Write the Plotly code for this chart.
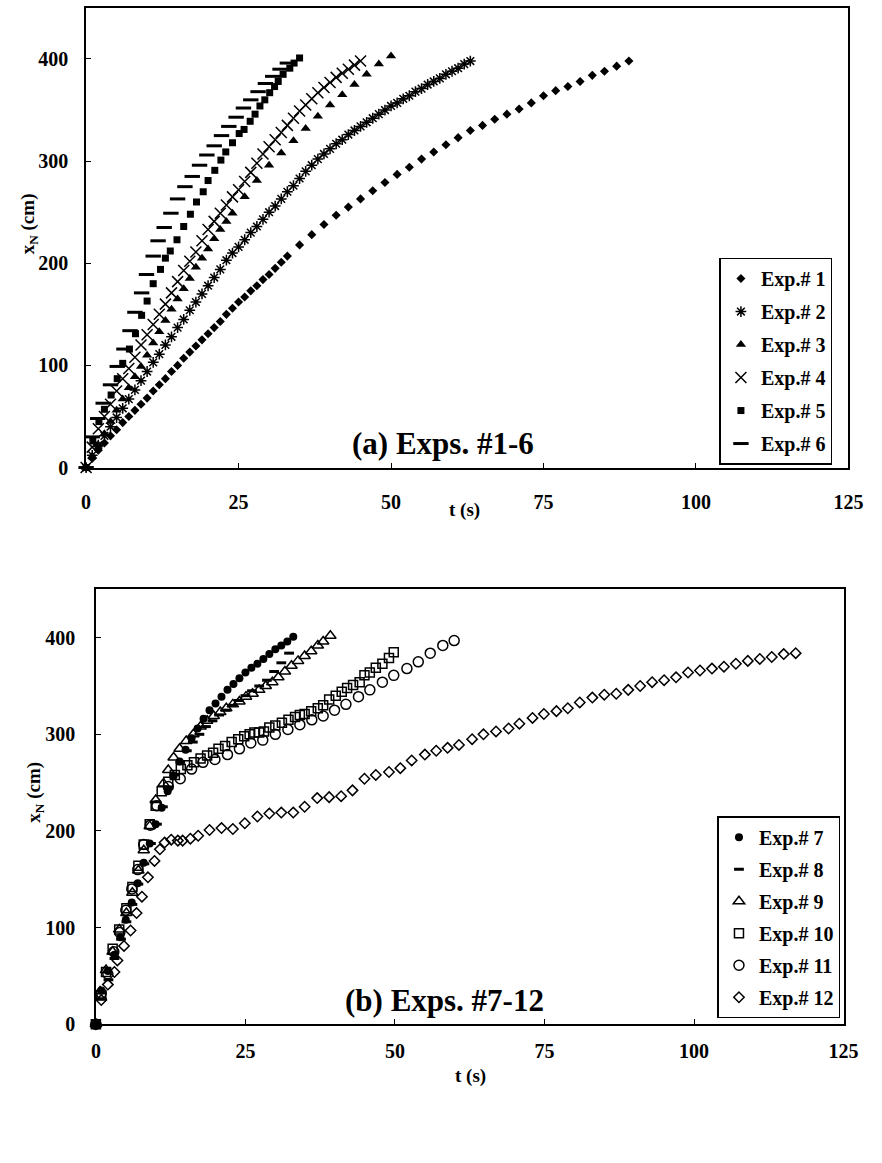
import plotly.graph_objects as go

FONT = "Liberation Serif, Times New Roman, serif"
W, H = 882, 1163

# ---------------- data: panel (a) ----------------
t1 = [0, 1, 2, 3, 4, 5, 6, 7, 8, 9, 10, 11, 12, 13, 14, 15, 16, 17, 18, 19, 20, 21, 22, 23, 24, 25, 26, 27, 28, 29, 30, 31, 32, 33,
      35, 37, 39, 41, 43, 45, 47, 49, 51, 53, 55, 57, 59, 61, 63, 65, 67, 69, 71, 73, 75, 77, 79, 81, 83, 85, 87, 89]
x1 = [0, 9, 17, 24, 31, 37, 44, 50, 56, 62, 68, 75, 81, 87, 94, 100, 107, 113, 119, 125, 131, 137, 143, 150, 156, 162, 167, 173, 178, 184, 189, 195, 201, 207,
      218, 228, 238, 247, 255, 263, 271, 279, 287, 294, 302, 309, 316, 323, 330, 335, 341, 346, 351, 357, 364, 369, 373, 378, 384, 388, 393, 398]

t2 = list(range(0, 64))
x2 = [0, 12, 22, 31, 40, 49, 58, 67, 76, 85, 94, 103, 111, 120, 128, 137, 145, 154, 162, 170,
      178, 186, 194, 203, 210, 216, 223, 230, 236, 243, 250, 256, 263, 270, 276, 283, 290, 296, 302, 307,
      312, 317, 321, 326, 330, 334, 338, 342, 346, 350, 354, 357, 361, 364, 368, 371, 375, 378, 381, 385,
      388, 391, 395, 398]

t3 = [0, 1, 2, 3, 4, 5, 6, 7, 8, 9, 10, 11, 12, 13, 14, 15, 16, 17, 18, 19, 20, 21, 22, 23, 24,
      26, 28, 30, 32, 34, 36, 38, 40, 42, 44, 46, 48, 50]
x3 = [0, 11, 22, 33, 45, 56, 67, 78, 89, 99, 110, 122, 133, 144, 155, 165, 175, 185, 196, 205, 214, 224, 233, 241, 249,
      265, 281, 296, 308, 320, 332, 344, 355, 365, 375, 385, 395, 403]

t4 = list(range(0, 46))
x4 = [0, 20, 38, 50, 62, 75, 87, 97, 108, 120, 130, 140, 150, 160, 171, 182, 193, 202, 211, 222,
      233, 241, 249, 257, 265, 272, 280, 289, 298, 307, 314, 321, 328, 335, 342, 349, 355, 361, 367, 372,
      377, 382, 386, 390, 394, 398]

t5 = [0, 1.1, 2.1, 3.0, 4.1, 5.1, 6.0, 7.1, 8.1, 9.1, 10.0, 11.0, 12.2, 13.0, 13.8, 14.9, 16.0, 17.1, 18.1, 19.2,
      20.0, 21.1, 22.1, 22.9, 24.0, 25.1, 25.9, 26.9, 27.7, 28.5, 29.3, 30.1, 30.9, 31.5, 32.3, 33.4, 34.1, 35.0]
x5 = [0, 26, 45, 57, 71, 87, 102, 116, 131, 149, 163, 180, 194, 205, 212, 223, 236, 248, 260, 270,
      281, 291, 301, 309, 318, 327, 331, 339, 346, 354, 360, 367, 373, 378, 385, 391, 396, 401]

t6 = [0, 1.0, 1.9, 2.8, 4.0, 5.1, 6.2, 7.2, 8.0, 9.1, 9.9, 11.0, 11.8, 12.8, 13.9, 15.0, 16.2, 17.4, 18.6, 19.8,
      21.0, 22.2, 23.4, 24.6, 25.8, 27.0, 28.2, 29.4, 30.6, 31.8, 33.0]
x6 = [0, 30, 48, 63, 81, 99, 116, 134, 152, 171, 189, 207, 222, 235, 249, 263, 275, 285, 296, 306,
      315, 325, 334, 343, 352, 360, 368, 376, 383, 390, 396]

# ---------------- data: panel (b) ----------------
t7 = [0, 0.9, 2.0, 3.1, 4.1, 5.0, 6.0, 7.0, 8.0, 9.0, 10, 11, 12, 13, 14, 15, 16, 17, 18, 19,
      20, 21, 22, 23, 24, 25, 26, 27, 28, 29, 30, 31, 32, 33]
x7 = [0, 35, 55, 72, 90, 108, 126, 146, 167, 187, 207, 224, 241, 257, 272, 284, 296, 306, 316, 325,
      332, 339, 346, 352, 358, 364, 369, 373, 378, 383, 388, 392, 396, 401]

t8 = [0, 1.0, 2.1, 3.1, 4.2, 5.1, 6.1, 7.1, 8.1, 9.2, 10.2, 11.2, 12.1, 13.1, 14.1, 15.2, 16.2, 17.3, 18.4, 19.5,
      20.6, 21.7, 22.8, 23.9, 25.0, 26.1, 27.3, 28.6, 29.8, 31.0, 32.3]
x8 = [0, 26, 46, 68, 88, 106, 124, 145, 166, 187, 207, 225, 244, 258, 271, 283, 292, 300, 308, 314,
      320, 325, 330, 335, 340, 345, 350, 356, 365, 374, 384]

t9 = [0, 0.7, 1.7, 2.8, 3.9, 5.1, 6.1, 7.1, 8.0, 9.0, 10.0, 11.3, 12.1, 13.0, 14.0, 15.1, 16.3, 17.5, 18.6, 19.7,
      20.8, 21.8, 22.9, 24.0, 25.1, 26.2, 27.3, 28.4, 29.5, 30.5, 31.6, 32.7, 33.8, 34.9, 36.0, 37.1, 38.0, 39.2]
x9 = [0, 34, 56, 75, 98, 115, 136, 159, 180, 205, 232, 249, 263, 276, 285, 293, 300, 308, 314, 319,
      323, 327, 331, 334, 339, 342, 346, 350, 354, 359, 365, 371, 376, 381, 386, 392, 396, 402]

t10 = [0, 0.9, 1.7, 2.8, 3.9, 5.1, 6.1, 7.1, 8.0, 9.0, 10.0, 11.0, 12.1, 13.2, 14.2, 15.3, 16.4, 17.5, 18.6, 19.6,
       20.5, 21.6, 22.7, 23.8, 24.8, 25.7, 26.5, 27.3, 28.1, 29.0, 30.0, 31.1, 32.2, 33.3, 34.1, 34.9, 36.0, 37.1, 38.0, 39.0,
       40.1, 41.1, 42.0, 43.0, 44.1, 44.9, 45.8, 46.8, 47.9, 49.0, 49.8]
x10 = [0, 30, 54, 78, 98, 120, 142, 164, 186, 207, 226, 241, 251, 258, 264, 268, 271, 275, 278, 281,
       285, 288, 292, 295, 298, 300, 302, 302, 303, 307, 309, 312, 315, 318, 320, 321, 324, 327, 330, 336,
       340, 344, 348, 351, 354, 361, 364, 369, 373, 379, 385]

t11 = [0, 0.9, 2.0, 3.0, 4.0, 5.0, 6.0, 7.0, 8.0, 9.1, 10.2, 12.1, 14.1, 16.0, 17.9, 19.9, 22.0, 24.0, 25.9, 27.9,
       30.0, 32.1, 34.1, 36.1, 38.0, 39.9, 41.8, 43.9, 45.8, 47.9, 49.8, 52.0, 53.9, 55.9, 58.0, 59.9]
x11 = [0, 32, 52, 75, 95, 118, 140, 160, 186, 206, 226, 246, 254, 264, 271, 274, 279, 285, 291, 294,
       300, 305, 310, 315, 319, 325, 331, 339, 346, 354, 361, 368, 375, 384, 392, 397]

t12 = [0, 0.9, 2.0, 3.1, 3.6, 4.7, 5.8, 6.8, 7.7, 8.7, 9.8, 10.7, 11.5, 12.6, 13.7, 14.5, 15.8, 17.1, 19.0, 21.0,
       22.9, 24.9, 27.0, 29.0, 31.0, 33.0, 34.9, 37.0, 39.0, 41.0, 42.9, 44.9, 46.8, 49.0, 50.9, 52.8, 55.0, 56.9, 58.8, 60.7,
       62.9, 64.8, 66.9, 69.0, 70.8, 73.0, 74.9, 77.0, 78.9, 80.9, 83.0, 85.0, 87.0, 89.0, 91.0, 93.0, 95.0, 97.0, 99.0, 101.0,
       103.0, 105.0, 107.0, 109.0, 111.0, 113.0, 115.0, 117.0]
x12 = [0, 25, 41, 54, 66, 81, 97, 115, 132, 152, 169, 181, 188, 191, 190, 190, 192, 195, 201, 203,
       202, 208, 215, 218, 219, 219, 225, 234, 235, 236, 242, 254, 258, 261, 265, 273, 279, 283, 286, 289,
       295, 300, 303, 306, 311, 317, 321, 324, 327, 333, 338, 341, 342, 346, 350, 354, 356, 359, 364, 366,
       368, 370, 373, 376, 378, 380, 383, 384]

x_ticks = [0, 25, 50, 75, 100, 125]
y_ticks = [0, 100, 200, 300, 400]

# ---------------- figure ----------------
fig = go.Figure()

series_a = [
    ("Exp.# 1", t1, x1, dict(symbol="diamond", size=7, color="black")),
    ("Exp.# 2", t2, x2, dict(symbol="asterisk-open", size=9, color="black", line=dict(width=1.5, color="black"))),
    ("Exp.# 3", t3, x3, dict(symbol="triangle-up", size=9, color="black")),
    ("Exp.# 4", t4, x4, dict(symbol="x-thin-open", size=11, color="black", line=dict(width=1.5, color="black"))),
    ("Exp.# 5", t5, x5, dict(symbol="square", size=7, color="black")),
    ("Exp.# 6", t6, x6, dict(symbol="line-ew-open", size=11, color="black", line=dict(width=3, color="black"))),
]
series_b = [
    ("Exp.# 7", t7, x7, dict(symbol="circle", size=8, color="black")),
    ("Exp.# 8", t8, x8, dict(symbol="line-ew-open", size=7, color="black", line=dict(width=3, color="black"))),
    ("Exp.# 9", t9, x9, dict(symbol="triangle-up-open", size=10, color="black", line=dict(width=1.5, color="black"))),
    ("Exp.# 10", t10, x10, dict(symbol="square-open", size=9, color="black", line=dict(width=1.5, color="black"))),
    ("Exp.# 11", t11, x11, dict(symbol="circle-open", size=10, color="black", line=dict(width=1.5, color="black"))),
    ("Exp.# 12", t12, x12, dict(symbol="diamond-open", size=8, color="black", line=dict(width=1.5, color="black"))),
]

for name, t, x, mk in series_a:
    fig.add_trace(go.Scatter(x=t, y=x, mode="markers", name=name, marker=mk,
                             xaxis="x", yaxis="y", legend="legend", legendgroup=name,
                             cliponaxis=False))
for name, t, x, mk in series_b:
    fig.add_trace(go.Scatter(x=t, y=x, mode="markers", name=name, marker=mk,
                             xaxis="x2", yaxis="y2", legend="legend2", legendgroup=name,
                             cliponaxis=False))

tickfont = dict(family=FONT, size=20, color="black", weight="bold")
axis_common = dict(showline=True, linecolor="black", linewidth=1.5, mirror=True,
                   ticks="inside", ticklen=5, tickwidth=1.2, tickcolor="black",
                   showgrid=False, zeroline=False, tickfont=tickfont)


def px_x(v):
    return v / W


def px_y(v):
    return 1 - v / H


leg_font = dict(family=FONT, size=20, color="black", weight="bold")
fig.update_layout(
    width=W, height=H, margin=dict(l=0, r=0, t=0, b=0),
    paper_bgcolor="white", plot_bgcolor="white",
    font=dict(family=FONT, color="black"),
    xaxis=dict(domain=[px_x(83), px_x(863)], anchor="y", range=[0, 125], tickvals=x_ticks,
               ticklabelstandoff=16, **axis_common),
    yaxis=dict(domain=[px_y(472), px_y(8)], anchor="x", range=[0, 450], tickvals=y_ticks,
               ticklabelstandoff=12, **axis_common),
    xaxis2=dict(domain=[px_x(93), px_x(858)], anchor="y2", range=[0, 125], tickvals=x_ticks,
                ticklabelstandoff=8, **axis_common),
    yaxis2=dict(domain=[px_y(1034), px_y(595)], anchor="x2", range=[0, 450], tickvals=y_ticks,
                ticklabelstandoff=15, **axis_common),
    legend=dict(x=px_x(731), y=px_y(260), xanchor="left", yanchor="top",
                bordercolor="black", borderwidth=1.5, bgcolor="white",
                font=leg_font, tracegroupgap=4, traceorder="grouped", itemwidth=30),
    legend2=dict(x=px_x(729), y=px_y(824), xanchor="left", yanchor="top",
                 bordercolor="black", borderwidth=1.5, bgcolor="white",
                 font=leg_font, tracegroupgap=3, traceorder="grouped", itemwidth=30),
    showlegend=True,
)

ann_font = dict(family=FONT, size=31, color="black", weight="bold")
lab_font = dict(family=FONT, size=19, color="black", weight="bold")
fig.add_annotation(text="(a) Exps. #1-6", x=px_x(448), y=px_y(448), xref="paper", yref="paper",
                   showarrow=False, font=ann_font, xanchor="center", yanchor="middle")
fig.add_annotation(text="(b) Exps. #7-12", x=px_x(450), y=px_y(1010), xref="paper", yref="paper",
                   showarrow=False, font=ann_font, xanchor="center", yanchor="middle")
fig.add_annotation(text="t (s)", x=px_x(470), y=px_y(515), xref="paper", yref="paper",
                   showarrow=False, font=lab_font, xanchor="center", yanchor="middle")
fig.add_annotation(text="t (s)", x=px_x(476), y=px_y(1086), xref="paper", yref="paper",
                   showarrow=False, font=lab_font, xanchor="center", yanchor="middle")
fig.add_annotation(text="x<sub>N</sub> (cm)", x=px_x(24), y=px_y(226), xref="paper", yref="paper",
                   showarrow=False, font=lab_font, textangle=-90, xanchor="center", yanchor="middle")
fig.add_annotation(text="x<sub>N</sub> (cm)", x=px_x(31), y=px_y(800), xref="paper", yref="paper",
                   showarrow=False, font=lab_font, textangle=-90, xanchor="center", yanchor="middle")

fig.write_html("out.html")
